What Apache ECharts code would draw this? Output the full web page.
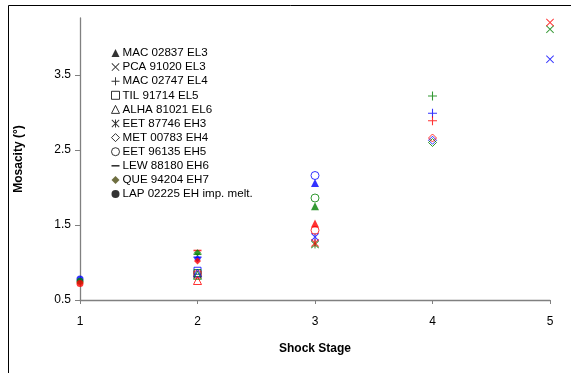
<!DOCTYPE html>
<html>
<head>
<meta charset="utf-8">
<script src="https://cdn.jsdelivr.net/npm/echarts@6/dist/echarts.min.js"></script>
<style>
  html, body { margin: 0; padding: 0; background: #fff; }
  #main { width: 571px; height: 373px; }
</style>
</head>
<body>
<div id="main"></div>
<script>
// meteorites (legend order)
const names = ['MAC 02837 EL3', 'PCA 91020 EL3', 'MAC 02747 EL4', 'TIL 91714 EL5', 'ALHA 81021 EL6',
  'EET 87746 EH3', 'MET 00783 EH4', 'EET 96135 EH5', 'LEW 88180 EH6', 'QUE 94204 EH7', 'LAP 02225 EH imp. melt.'];
// shock stage of each meteorite
const stages = [3, 5, 4, 2, 2, 3, 4, 3, 2, 2, 1];
const redVals   = [1.52, 4.20, 2.89, 0.84, 0.76, 1.26, 2.66, 1.43, 1.16, 1.02, 0.72];
const greenVals = [1.75, 4.11, 3.22, 0.86, 0.83, 1.24, 2.60, 1.86, 1.11, 1.13, 0.75];
const blueVals  = [2.06, 3.71, 2.99, 0.89, 0.86, 1.34, 2.63, 2.16, 1.07, 1.05, 0.78];
const xTicks = [1, 2, 3, 4, 5];
const yTicks = [0.5, 1.5, 2.5, 3.5];

const setColors = ['#0000ff', '#008000', '#ff0000'];

const P_PLUS = 'path://M4.4,0h1.2v10h-1.2z M0,4.4h10v1.2h-10z';
const P_X = 'path://M0,0.8L0.8,0L10,9.2L9.2,10Z M9.2,0L10,0.8L0.8,10L0,9.2Z';
const P_STAR = 'path://M0,0.8L0.8,0L10,9.2L9.2,10Z M9.2,0L10,0.8L0.8,10L0,9.2Z M4.4,0h1.2v10h-1.2z';
const P_DASH = 'path://M0,4h10v2h-10z';

// marker per meteorite: [symbol, open?]
const markers = [
  ['triangle', false], [P_X, false], [P_PLUS, false], ['rect', true], ['triangle', true],
  [P_STAR, false], ['diamond', true], ['circle', true], [P_DASH, false], ['diamond', false], ['circle', false]
];
const sizes = [8, 8, 9, 7, 8, 8, 8, 8, 8, 7, 7];

function styleFor(i, c) {
  if (markers[i][1]) return { color: 'rgba(0,0,0,0)', borderColor: c, borderWidth: 1 };
  return { color: c };
}

const series = names.map((n, i) => {
  const vals = [blueVals[i], greenVals[i], redVals[i]];
  return {
    name: n,
    type: 'scatter',
    symbol: markers[i][0],
    symbolSize: sizes[i],
    symbolKeepAspect: true,
    itemStyle: styleFor(i, '#000'),
    data: vals.map((v, k) => ({ value: [stages[i], v], itemStyle: styleFor(i, setColors[k]) }))
  };
});

const legendData = names.map((n, i) => {
  const col = i === 9 ? '#4a4a10' : '#000';
  return { name: n, icon: markers[i][0], itemStyle: styleFor(i, col) };
});

const chart = echarts.init(document.getElementById('main'));
chart.setOption({
  animation: false,
  textStyle: { fontFamily: 'Liberation Sans, Arial, sans-serif' },
  graphic: [{
    type: 'rect',
    shape: { x: 8.5, y: 5.5, width: 700, height: 500 },
    style: { fill: 'none', stroke: '#000', lineWidth: 1 }
  }],
  grid: { left: 80, right: 21, top: 18, bottom: 73 },
  legend: {
    orient: 'vertical',
    left: 106,
    top: 42,
    itemWidth: 8,
    itemHeight: 8,
    itemGap: 2.1,
    selectedMode: false,
    textStyle: { fontSize: 11.6, color: '#000', padding: [0, 0, 0, -2] },
    data: legendData
  },
  xAxis: {
    type: 'value',
    min: 1, max: 5, interval: 1,
    name: 'Shock Stage',
    nameLocation: 'middle',
    nameGap: 43,
    nameTextStyle: { fontSize: 12, fontWeight: 'bold', color: '#000' },
    axisLine: { lineStyle: { color: '#808080', width: 1.3 } },
    axisTick: { show: true, length: 4, lineStyle: { color: '#808080' }, customValues: xTicks },
    axisLabel: { fontSize: 12, color: '#000', margin: 16, customValues: xTicks },
    splitLine: { show: false }
  },
  yAxis: {
    type: 'value',
    min: 0.5, max: 4.26, interval: 1,
    name: 'Mosacity (°)',
    nameLocation: 'middle',
    nameRotate: 90,
    nameGap: 55,
    nameTextStyle: { fontSize: 12, fontWeight: 'bold', color: '#000' },
    axisLine: { show: true, lineStyle: { color: '#808080', width: 1.3 } },
    axisTick: { show: true, length: 5, lineStyle: { color: '#808080' }, customValues: yTicks },
    axisLabel: { fontSize: 12, color: '#000', margin: 9, customValues: yTicks },
    splitLine: { show: false }
  },
  series: series
});
</script>
</body>
</html>
